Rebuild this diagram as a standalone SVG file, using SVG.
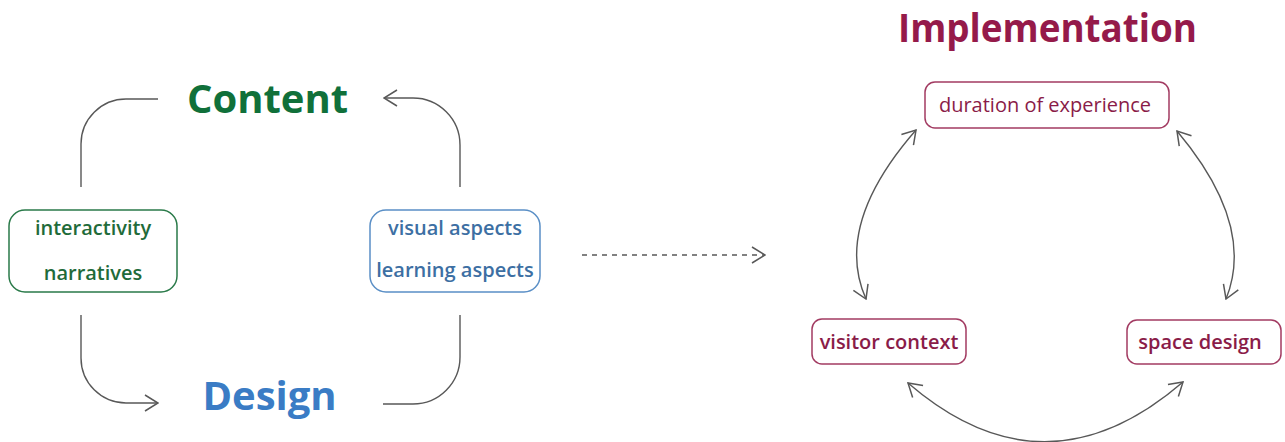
<svg xmlns="http://www.w3.org/2000/svg" width="1285" height="442" viewBox="0 0 1285 442">
<style>
.conn{fill:none;stroke:#585858;stroke-width:1.4}
.dash{stroke-dasharray:5 5}
.t{font-family:"Open Sans","Noto Sans","Liberation Sans",sans-serif;text-anchor:middle}
.big{font-size:40px;font-weight:700}
.lbl{font-size:20px;font-weight:600}
.gbox{fill:#fff;stroke:#2a7a49;stroke-width:1.5}
.bbox{fill:#fff;stroke:#5a8fc6;stroke-width:1.5}
.rbox{fill:#fff;stroke:#a23b62;stroke-width:1.5}
.gt{fill:#1f6b3a}
.bt{fill:#3d6fa3}
.rt{fill:#8a1c48}
</style>
<defs>
<marker id="arr" viewBox="0 0 15 18" refX="14" refY="9" markerWidth="15" markerHeight="18" markerUnits="userSpaceOnUse" orient="auto-start-reverse">
<path d="M1,1 L14,9 L1,17" fill="none" stroke="#585858" stroke-width="1.5" stroke-dasharray="none"/>
</marker>
</defs>

<g id="connectors">
<path class="conn" d="M158,99 H126 A45,45 0 0 0 81,144 V187"/>
<path class="conn" d="M81,315 V358 A45,45 0 0 0 126,403 H158" marker-end="url(#arr)"/>
<path class="conn" d="M460,187 V145 A47,47 0 0 0 413,98 H384" marker-end="url(#arr)"/>
<path class="conn" d="M460,315 V357 A47,47 0 0 1 413,404 H383"/>
<path class="conn dash" d="M582,255 H765" marker-end="url(#arr)"/>
<path class="conn" d="M916,130 Q833,225 866,299" marker-start="url(#arr)" marker-end="url(#arr)"/>
<path class="conn" d="M1177,131 Q1256,225 1226,299" marker-start="url(#arr)" marker-end="url(#arr)"/>
<path class="conn" d="M908,383 Q1045,501 1183,382" marker-start="url(#arr)" marker-end="url(#arr)"/>
</g>

<g id="content">
<text class="t big" x="267.5" y="113" fill="#10703a">Content</text>
</g>
<g id="design">
<text class="t big" x="269.5" y="410" fill="#3a7cc5">Design</text>
</g>
<g id="implementation">
<text class="t big" x="1047.5" y="42" fill="#951a4a" textLength="299" lengthAdjust="spacingAndGlyphs">Implementation</text>
</g>

<g id="content-items">
<rect class="gbox" x="9" y="210" width="168" height="82" rx="16"/>
<text class="t lbl gt" x="93" y="235">interactivity</text>
<text class="t lbl gt" x="93" y="280">narratives</text>
</g>

<g id="design-items">
<rect class="bbox" x="370" y="210" width="170" height="82" rx="16"/>
<text class="t lbl bt" x="455" y="235">visual aspects</text>
<text class="t lbl bt" x="455" y="277">learning aspects</text>
</g>

<g id="duration">
<rect class="rbox" x="925" y="82" width="244" height="46" rx="10"/>
<text class="t rt" x="1045" y="112" font-size="20" font-weight="400">duration of experience</text>
</g>

<g id="visitor">
<rect class="rbox" x="812" y="319" width="154" height="45" rx="10"/>
<text class="t lbl rt" x="889" y="349">visitor context</text>
</g>

<g id="space">
<rect class="rbox" x="1127" y="320" width="154" height="44" rx="10"/>
<text class="t lbl rt" x="1200" y="349">space design</text>
</g>
</svg>
